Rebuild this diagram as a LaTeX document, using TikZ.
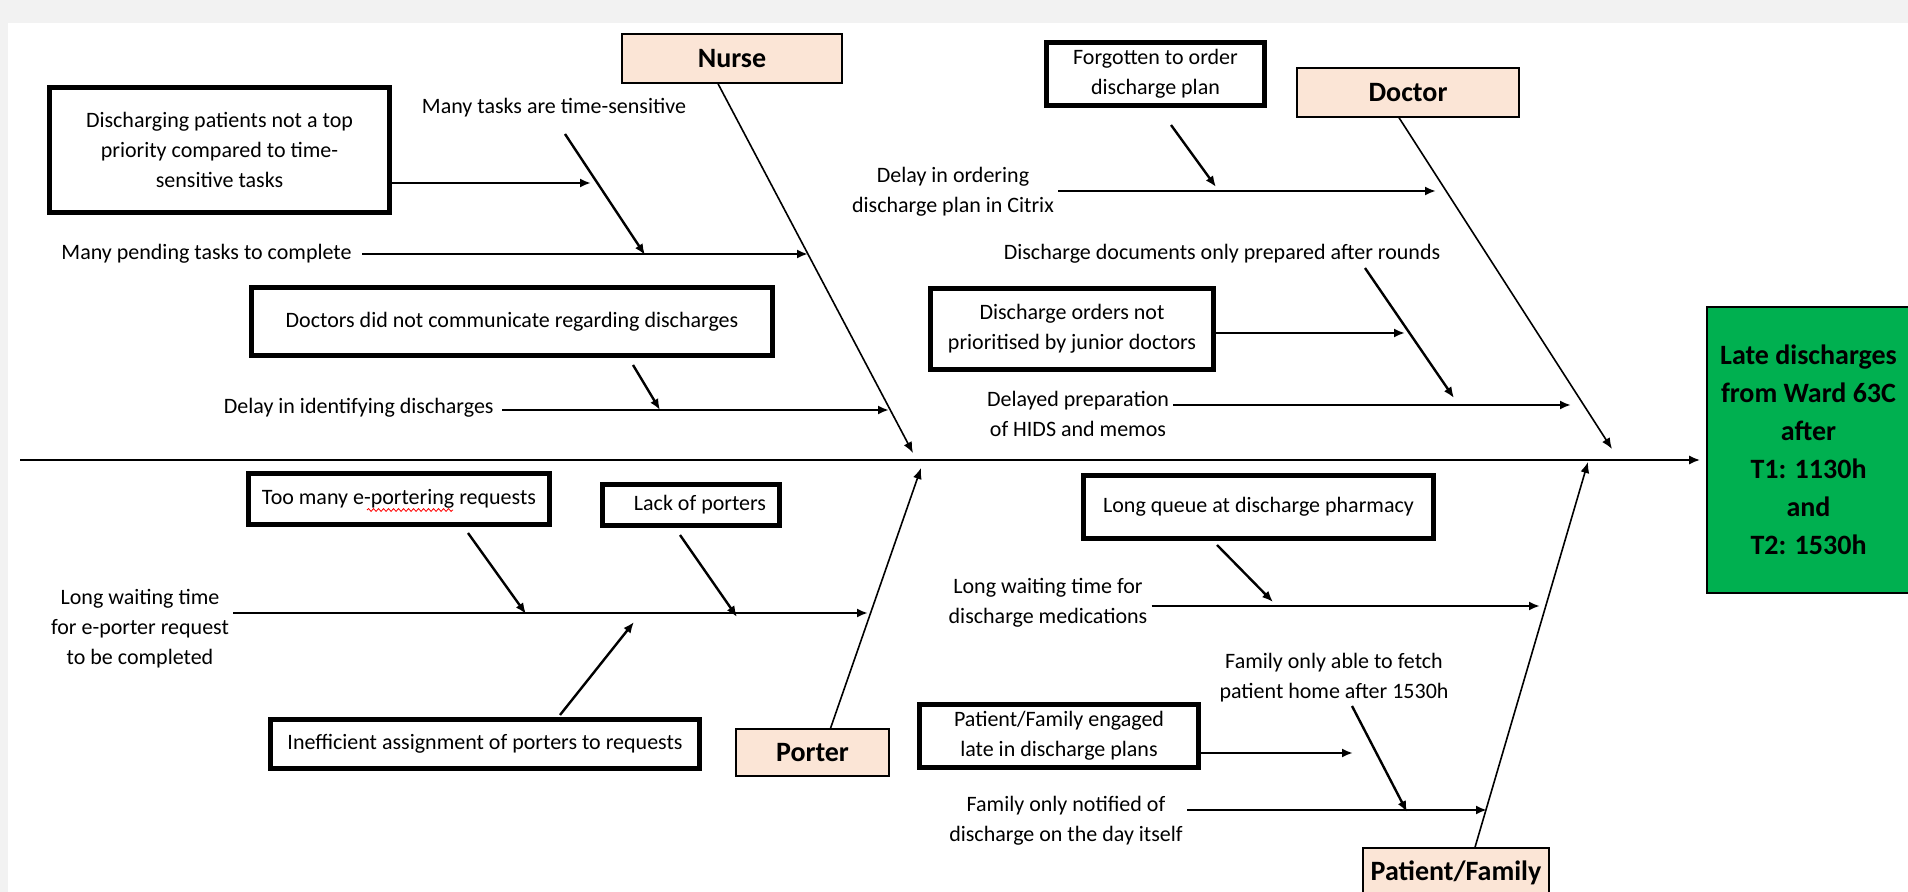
\documentclass[tikz,border=0pt]{standalone}
\usepackage{fontspec}
\setmainfont{Carlito}
\usepackage{xcolor}
\usetikzlibrary{arrows.meta, decorations.pathmorphing}

\definecolor{peach}{HTML}{FBE5D6}
\definecolor{effectgreen}{HTML}{00B050}
\definecolor{pagegray}{HTML}{F2F2F2}

\begin{document}
\begin{tikzpicture}[x=0.5pt,y=-0.5pt,>={Latex[length=5.5pt,width=4.5pt]},
    every node/.style={font=\fontsize{11}{15}\selectfont, align=center, inner sep=2pt},
    cause/.style={draw, line width=2.6pt, inner sep=0pt},
    category/.style={draw, line width=0.7pt, fill=peach, inner sep=0pt,
      font=\fontsize{14}{17}\selectfont\bfseries},
    bone/.style={->, line width=0.8pt},
    twig/.style={->, line width=1.2pt}]
  \useasboundingbox (0,0) rectangle (1908,892);
  \fill[pagegray] (0,0) rectangle (1908,892);
  \fill[white] (8,23) rectangle (1908,892);

  % head of the fish
  \node[draw, line width=0.8pt, fill=effectgreen, minimum width=101.5pt, minimum height=143pt,
    font=\fontsize{14}{19}\selectfont\bfseries] (effect) at (1808.5,450)
    {Late discharges\\from Ward 63C\\after\\T1: 1130h\\and\\T2: 1530h};

  % categories
  \node[category, minimum width=110pt, minimum height=24.5pt] (nurse) at (732,58.5) {Nurse};
  \node[category, minimum width=111pt, minimum height=24.5pt] (doctor) at (1408,92.5) {Doctor};
  \node[category, minimum width=76.5pt, minimum height=23.5pt] (porter) at (812.5,752.5) {Porter};
  \node[category, minimum width=93pt, minimum height=24.5pt] (patient) at (1456,872.5) {Patient/Family};

  % spine and ribs
  \coordinate (tail) at (20,460);
  \coordinate (nurseTip) at (913,453);
  \coordinate (doctorTip) at (1612,449);
  \coordinate (porterTip) at (921,468);
  \coordinate (patientTip) at (1588,462);
  \draw[->, line width=1pt, shorten >=3pt] (tail) -- (tail -| effect.west);
  \draw[bone] ([shift={(-14,0)}]nurse.south) -- (nurseTip);
  \draw[bone] ([shift={(-9,0)}]doctor.south) -- (doctorTip);
  \draw[bone] ([shift={(18,0)}]porter.north) -- (porterTip);
  \draw[bone] ([shift={(19,0)}]patient.north) -- (patientTip);

  % nurse
  \node[cause, minimum width=170pt, minimum height=62.5pt] (priority) at (219.5,150)
    {Discharging patients not a top\\priority compared to time-\\sensitive tasks};
  \node (t2) at (554,108) {Many tasks are time-sensitive};
  \node[anchor=east] (t1) at (356,254) {Many pending tasks to complete};
  \node[cause, minimum width=260.5pt, minimum height=34pt] (comm) at (512,321.5)
    {Doctors did not communicate regarding discharges};
  \node[anchor=east] (t3) at (498,408) {Delay in identifying discharges};
  \coordinate (n1) at (808,254);
  \coordinate (n2) at (645,255);
  \coordinate (n3) at (591,183);
  \coordinate (n4) at (660,410);
  \coordinate (n5) at (889,410);
  \draw[twig, shorten <=3pt] (t1.east |- n1) -- (n1);
  \draw[twig] ([shift={(11,26)}]t2.center) -- (n2);
  \draw[twig] (priority.east |- n3) -- (n3);
  \draw[twig] ([shift={(121,43.5)}]comm.center) -- (n4);
  \draw[twig, shorten <=2pt] (t3.east |- n5) -- (n5);

  % doctor
  \node[cause, minimum width=109pt, minimum height=31.5pt] (forgot) at (1155.5,74)
    {Forgotten to order\\discharge plan};
  \node (t4) at (953,192) {Delay in ordering\\discharge plan in Citrix};
  \node (t5) at (1222,254) {Discharge documents only prepared after rounds};
  \node[cause, minimum width=141.5pt, minimum height=40.5pt] (junior) at (1072,329)
    {Discharge orders not\\prioritised by junior doctors};
  \node (t6) at (1078,414) {Delayed preparation\\of HIDS and memos};
  \coordinate (o1) at (1216,187);
  \coordinate (o2) at (1436,191);
  \coordinate (o3) at (1454,398);
  \coordinate (o4) at (1405,333);
  \coordinate (o5) at (1571,405);
  \draw[twig] ([shift={(15.5,51)}]forgot.center) -- (o1);
  \draw[twig] (t4.east |- o2) -- (o2);
  \draw[twig] ([shift={(143,14)}]t5.center) -- (o3);
  \draw[twig] (junior.east |- o4) -- (o4);
  \draw[twig] (t6.east |- o5) -- (o5);

  % porter
  \node[cause, minimum width=150.5pt, minimum height=25.5pt] (busy) at (399,499)
    {Too many e-portering requests};
  \draw[red, line width=0.4pt, decorate, decoration={snake, amplitude=0.7pt, segment length=2.5pt}]
    (367,510) -- (453,510);
  \node[cause, minimum width=88.5pt, minimum height=20.5pt] (lack) at (691,505)
    {\hspace*{9pt}Lack of porters};
  \node (t7) at (140,629) {Long waiting time\\for e-porter request\\to be completed};
  \node[cause, minimum width=214.5pt, minimum height=24.5pt] (assign) at (485,744)
    {Inefficient assignment of porters to requests};
  \coordinate (p1) at (526,614);
  \coordinate (p2) at (737,617);
  \coordinate (p3) at (868,613);
  \coordinate (p4) at (634,622);
  \draw[twig] ([shift={(69,34)}]busy.center) -- (p1);
  \draw[twig] ([shift={(-11,30)}]lack.center) -- (p2);
  \draw[twig] (t7.east |- p3) -- (p3);
  \draw[twig] ([shift={(75,-29)}]assign.center) -- (p4);

  % patient / family
  \node[cause, minimum width=175pt, minimum height=31.5pt] (queue) at (1258.5,507)
    {Long queue at discharge pharmacy};
  \node (t8) at (1048,603) {Long waiting time for\\discharge medications};
  \node (t9) at (1334,678) {Family only able to fetch\\patient home after 1530h};
  \node[cause, minimum width=139.5pt, minimum height=31.5pt] (engaged) at (1059,736)
    {Patient/Family engaged\\late in discharge plans};
  \node (t10) at (1066,821) {Family only notified of\\discharge on the day itself};
  \coordinate (f1) at (1273,602);
  \coordinate (f2) at (1540,606);
  \coordinate (f3) at (1407,812);
  \coordinate (f4) at (1353,753);
  \coordinate (f5) at (1487,810);
  \draw[twig] ([shift={(-41.5,38)}]queue.center) -- (f1);
  \draw[twig] (t8.east |- f2) -- (f2);
  \draw[twig] ([shift={(18,28)}]t9.center) -- (f3);
  \draw[twig] (engaged.east |- f4) -- (f4);
  \draw[twig] (t10.east |- f5) -- (f5);
\end{tikzpicture}
\end{document}
